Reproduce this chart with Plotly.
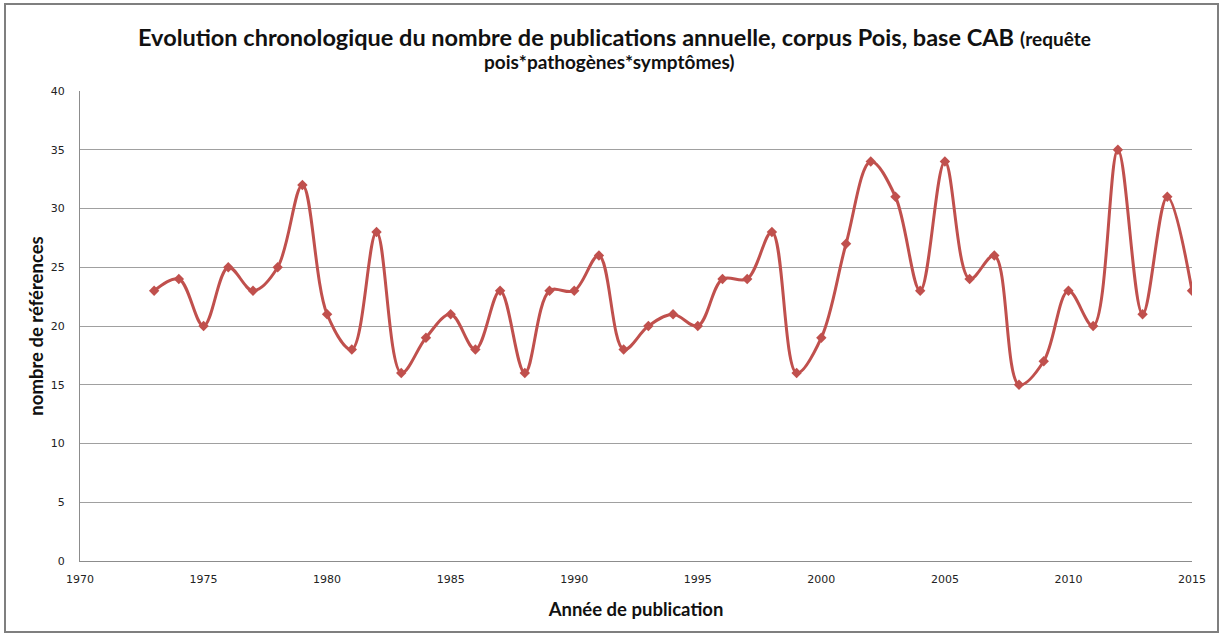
import plotly.graph_objects as go

years = list(range(1973, 2016))
values = [23, 24, 20, 25, 23, 25, 32, 21, 18, 28, 16, 19, 21, 18, 23, 16, 23, 23, 26, 18,
          20, 21, 20, 24, 24, 28, 16, 19, 27, 34, 31, 23, 34, 24, 26, 15, 17, 23, 20, 35,
          21, 31, 23]
y_ticks = [0, 5, 10, 15, 20, 25, 30, 35, 40]
x_ticks = [1970, 1975, 1980, 1985, 1990, 1995, 2000, 2005, 2010, 2015]

title_main = "Evolution chronologique du nombre de publications annuelle, corpus Pois, base CAB"
title_tail = "(requête"
title_line2 = "pois*pathogènes*symptômes)"

fig = go.Figure()
fig.add_trace(go.Scatter(
    x=years, y=values, mode="lines+markers",
    line=dict(color="#C0504D", width=3, shape="spline", smoothing=1.0),
    marker=dict(symbol="diamond", size=8, color="#C0504D"),
    showlegend=False,
))

W, H = 1221, 634
L, R, T, B = 80, 29, 91, 73
pw, ph = W - L - R, H - T - B

def px_x(x):
    return (x - L) / pw

def px_y(y):
    return (H - B - y) / ph

fig.update_layout(
    width=W, height=H,
    margin=dict(l=L, r=R, t=T, b=B),
    paper_bgcolor="white", plot_bgcolor="white",
    font=dict(family="DejaVu Sans", color="#333333"),
    xaxis=dict(range=[1970, 2015], tickvals=x_ticks, showgrid=False,
               showline=True, linecolor="#8c8c8c", linewidth=1, ticks="",
               ticklabelstandoff=8,
               tickfont=dict(size=11, color="#222222"), zeroline=False,
               title=dict(text="<b>Année de publication</b>",
                          font=dict(family="Lato", size=18.5, color="#111111"), standoff=17)),
    yaxis=dict(range=[0, 40], tickvals=y_ticks, showgrid=True, gridcolor="#a0a0a0",
               gridwidth=1, showline=True, linecolor="#8c8c8c", linewidth=1, ticks="",
               ticklabelstandoff=12,
               tickfont=dict(size=11, color="#222222"), zeroline=False,
               title=dict(text="<b>nombre de références</b>",
                          font=dict(family="Lato", size=18.5, color="#111111"), standoff=2)),
    annotations=[
        dict(xref="paper", yref="paper", x=px_x(614), y=px_y(37),
             text="<b>" + title_main + "</b> <b><span style='font-size:19px'>" + title_tail + "</span></b>",
             showarrow=False, font=dict(family="Lato", size=23.5, color="#111111"),
             xanchor="center", yanchor="middle"),
        dict(xref="paper", yref="paper", x=px_x(609), y=px_y(61),
             text="<b>" + title_line2 + "</b>",
             showarrow=False, font=dict(family="Lato", size=19, color="#111111"),
             xanchor="center", yanchor="middle"),
    ],
    shapes=[
        dict(type="rect", xref="paper", yref="paper",
             x0=px_x(5), x1=px_x(1218), y0=px_y(632), y1=px_y(4),
             line=dict(color="#7f7f7f", width=2), fillcolor="rgba(0,0,0,0)", layer="below"),
    ],
)

fig.write_html("out.html", config={"displayModeBar": False},
               post_script="document.body.style.margin='0px';document.body.style.padding='0px';")
